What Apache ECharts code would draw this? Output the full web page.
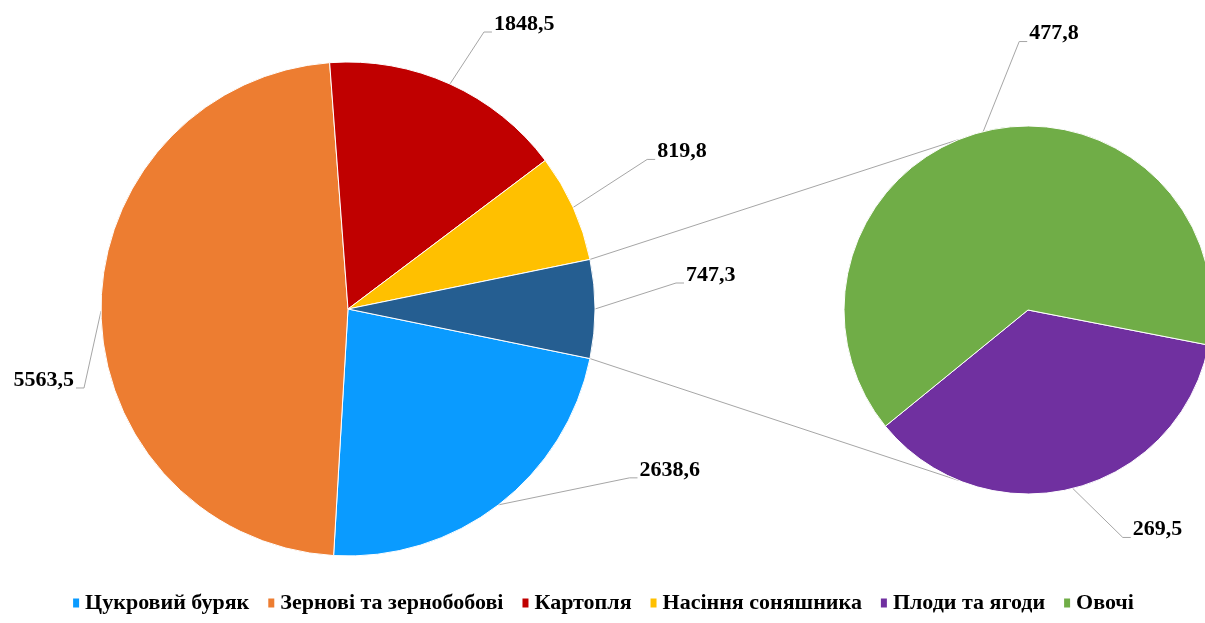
<!doctype html>
<html><head><meta charset="utf-8" />
<style>html,body,#app{margin:0;padding:0;width:1205px;height:623px;background:#ffffff}</style>
</head><body><div id="app"></div>
<script src="https://cdn.jsdelivr.net/npm/echarts@6/dist/echarts.min.js"></script>
<script>
// main pie: the last slice is the sum of the secondary pie
const mainNames = ['Цукровий буряк', 'Зернові та зернобобові', 'Картопля', 'Насіння соняшника', 'Інші'];
const mainValues = [2638.6, 5563.5, 1848.5, 819.8];
const subNames = ['Плоди та ягоди', 'Овочі'];
const subValues = [269.5, 477.8];
const legendNames = ['Цукровий буряк', 'Зернові та зернобобові', 'Картопля', 'Насіння соняшника', 'Плоди та ягоди', 'Овочі'];

const mainColors = ['#0A9BFF', '#ED7D31', '#C00000', '#FFC000', '#255E91'];
const subColors = ['#7030A0', '#70AD47'];

// geometry
const mainC = [348, 309], mainR = 247;
const subC = [1028, 310], subR = 184;
const subStart = -11;       // degrees, first slice of the secondary pie
const joinAngle = 112;      // where the connector lines meet the secondary pie
// label end points relative to slice edge (px)
const mainLabelOff = [[131, -27], [-17, 77], [34, -52], [74, -48], [81, -26]];
const subLabelOff = [[50, 49], [36, -90]];

(function () {
  const otherValue = subValues.reduce((a, b) => a + b, 0);
  const allMain = mainValues.concat([Number(otherValue.toFixed(1))]);
  const total = allMain.reduce((a, b) => a + b, 0);
  const half = otherValue / total * 180;   // other slice centred on 3 o'clock
  const mainStart = -half;

  const fmt = v => v.toFixed(1).replace('.', ',');
  const rad = d => d * Math.PI / 180;

  // mid-angle edge point of every slice (clockwise from startAngle)
  function edgePoints(values, start, c, r) {
    const sum = values.reduce((a, b) => a + b, 0);
    let a = start; const pts = [];
    values.forEach(v => {
      const span = v / sum * 360;
      const mid = a - span / 2;
      pts.push([c[0] + r * Math.cos(rad(mid)), c[1] - r * Math.sin(rad(mid))]);
      a -= span;
    });
    return pts;
  }
  const mainEdges = edgePoints(allMain, mainStart, mainC, mainR);
  const subEdges = edgePoints(subValues, subStart, subC, subR);

  function layout(edges, offs) {
    return function (p) {
      const s = edges[p.dataIndex], o = offs[p.dataIndex];
      const left = o[0] < 0;
      const e = [s[0] + o[0], s[1] + o[1]];
      const t = [e[0] + (left ? -8 : 8), e[1]];
      return {
        x: t[0] + (left ? -2 : 2), y: e[1] + 3,
        align: left ? 'right' : 'left', verticalAlign: 'bottom',
        width: 120,
        labelLinePoints: [s, e, t]
      };
    };
  }

  const labelStyle = {
    show: true, formatter: p => fmt(p.value), overflow: 'none', width: 120,
    color: '#000', fontFamily: 'Liberation Serif', fontWeight: 'bold', fontSize: 22
  };
  const lineStyle = { show: true, lineStyle: { color: '#A6A6A6', width: 1 } };

  // connector lines between the "other" slice and the secondary pie
  const pA = [mainC[0] + mainR * Math.cos(rad(half)), mainC[1] - mainR * Math.sin(rad(half))];
  const pB = [mainC[0] + mainR * Math.cos(rad(half)), mainC[1] + mainR * Math.sin(rad(half))];
  const qA = [subC[0] + subR * Math.cos(rad(joinAngle)), subC[1] - subR * Math.sin(rad(joinAngle))];
  const qB = [subC[0] + subR * Math.cos(rad(joinAngle)), subC[1] + subR * Math.sin(rad(joinAngle))];

  const chart = echarts.init(document.getElementById('app'));
  chart.setOption({
    backgroundColor: '#ffffff',
    animation: false,
    legend: {
      data: legendNames, bottom: 4, left: 'center', icon: 'rect', itemWidth: 8, itemHeight: 11, itemGap: 17,
      textStyle: { color: '#000', fontFamily: 'Liberation Serif', fontWeight: 'bold', fontSize: 22 }
    },
    graphic: [
      { type: 'polyline', z: 0, shape: { points: [pA, qA] }, style: { stroke: '#A6A6A6', lineWidth: 1, fill: null } },
      { type: 'polyline', z: 0, shape: { points: [pB, qB] }, style: { stroke: '#A6A6A6', lineWidth: 1, fill: null } }
    ],
    series: [
      {
        type: 'pie', center: mainC, radius: mainR, startAngle: mainStart, clockwise: true,
        itemStyle: { borderColor: '#fff', borderWidth: 1 },
        label: labelStyle, labelLine: lineStyle, labelLayout: layout(mainEdges, mainLabelOff),
        emphasis: { disabled: true },
        data: allMain.map((v, i) => ({ name: mainNames[i], value: v, itemStyle: { color: mainColors[i] } }))
      },
      {
        type: 'pie', center: subC, radius: subR, startAngle: subStart, clockwise: true,
        itemStyle: { borderColor: '#fff', borderWidth: 1 },
        label: labelStyle, labelLine: lineStyle, labelLayout: layout(subEdges, subLabelOff),
        emphasis: { disabled: true },
        data: subValues.map((v, i) => ({ name: subNames[i], value: v, itemStyle: { color: subColors[i] } }))
      }
    ]
  });
})();
</script></body></html>
